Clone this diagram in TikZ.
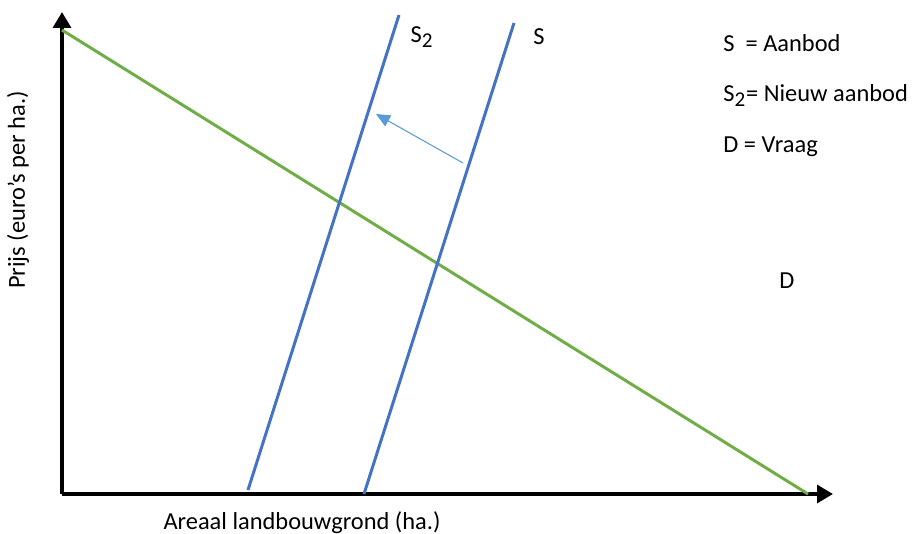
\documentclass[tikz,border=0pt]{standalone}
\usepackage{fontspec}
\setmainfont{Carlito}
\usetikzlibrary{arrows.meta}
\definecolor{vraaggroen}{RGB}{112,173,71}
\definecolor{aanbodblauw}{RGB}{68,114,196}
\definecolor{pijlblauw}{RGB}{91,155,213}
\tikzset{
  as/.style={line width=2.3pt, -{Triangle[length=9pt,width=10pt]}},
  curve/.style={line width=1.7pt},
  lbl/.style={font=\fontsize{13.9}{16}\selectfont, inner sep=0pt}
}

\begin{document}
\begin{tikzpicture}
    \useasboundingbox (0,0) rectangle (18.38,10.68);
    % Axes
    \coordinate (O) at (1.24,0.80);
    \coordinate (ytop) at (1.24,10.44);
    \coordinate (xend) at (16.66,0.80);
    \draw[as] (O) -- (ytop);
    \draw[as] (O) -- (xend);
    % Demand
    \coordinate (D1) at (1.24,10.08);
    \coordinate (D2) at (16.16,0.80);
    \draw[curve, vraaggroen] (D1) -- (D2);
    % Supply, old and new
    \coordinate (Sa) at (7.28,0.80);
    \coordinate (Sb) at (10.28,10.22);
    \coordinate (Ta) at (4.96,0.88);
    \coordinate (Tb) at (7.98,10.38);
    \draw[curve, aanbodblauw] (Sa) -- (Sb);
    \draw[curve, aanbodblauw] (Ta) -- (Tb);
    % Shift
    \coordinate (shiftS) at (9.26,7.42);
    \coordinate (shiftT) at (7.52,8.40);
    \draw[pijlblauw, line width=0.6pt, -{Triangle[length=8pt,width=7pt]}] (shiftS) -- (shiftT);
    % Labels
    \node[lbl] (labT) at (8.44,9.94) {S\textsubscript{\large 2}};
    \node[lbl] (labS) at (10.78,9.94) {S};
    \node[lbl] (labD) at (15.74,5.06) {D};
    \node[lbl, anchor=west] (leg1) at (14.46,9.82) {S\ \ = Aanbod};
    \node[lbl, anchor=west] (leg2) at (14.46,8.76) {S\textsubscript{\large 2}= Nieuw aanbod};
    \node[lbl, anchor=west] (leg3) at (14.46,7.74) {D = Vraag};
    \node[lbl] (xlab) at (6.04,0.22) {Areaal landbouwgrond (ha.)};
    \node[lbl, rotate=90] (ylab) at (0.36,6.88) {Prijs (euro’s per ha.)};
\end{tikzpicture}
\end{document}
